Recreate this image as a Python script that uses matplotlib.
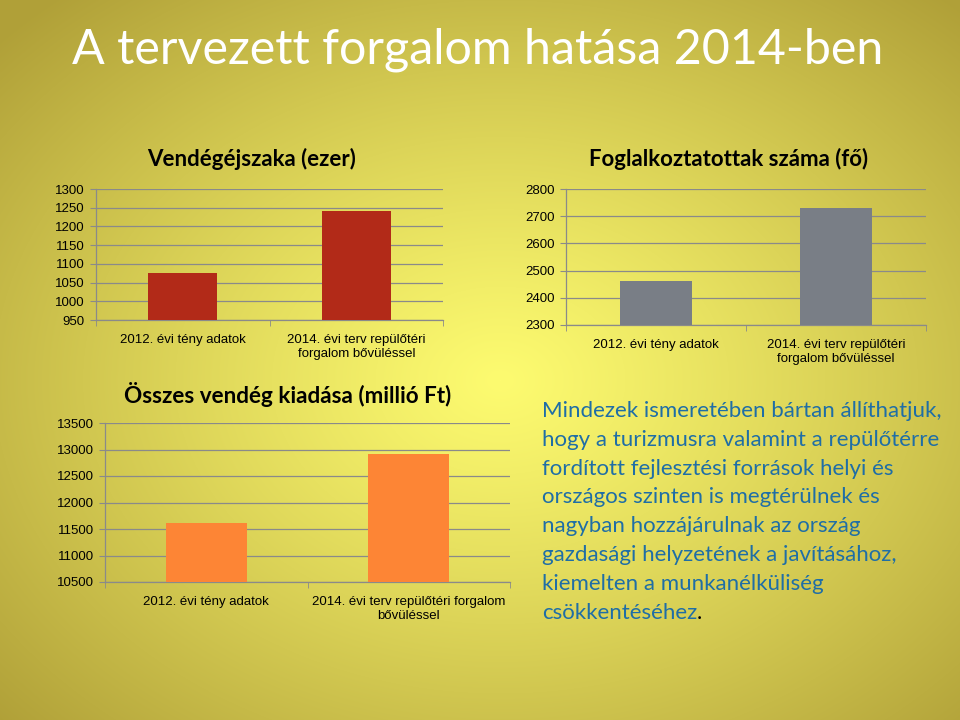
import numpy as np
import matplotlib
matplotlib.use('Agg')
import matplotlib.pyplot as plt

# data
categories = ["2012. évi tény adatok", "2014. évi terv repülőtéri\nforgalom bővüléssel"]
categories_wide = ["2012. évi tény adatok", "2014. évi terv repülőtéri forgalom\nbővüléssel"]

nights = [1075, 1240]
nights_ticks = [950, 1000, 1050, 1100, 1150, 1200, 1250, 1300]

employed = [2460, 2730]
employed_ticks = [2300, 2400, 2500, 2600, 2700, 2800]

spending = [11620, 12910]
spending_ticks = [10500, 11000, 11500, 12000, 12500, 13000, 13500]

text_lines = [
    "Mindezek ismeretében bártan állíthatjuk,",
    "hogy a turizmusra valamint a repülőtérre",
    "fordított fejlesztési források helyi és",
    "országos szinten is megtérülnek és",
    "nagyban hozzájárulnak az ország",
    "gazdasági helyzetének a javításához,",
    "kiemelten a munkanélküliség",
    "csökkentéséhez",
]

W, H = 960, 720
TICK_FONT = ['Liberation Sans Narrow', 'Liberation Sans', 'DejaVu Sans']
TITLE_FONT = ['Lato', 'DejaVu Sans']

fig = plt.figure(figsize=(9.6, 7.2), dpi=100)

# radial background
bg = fig.add_axes([0, 0, 1, 1])
yy, xx = np.mgrid[0:H, 0:W]
r = np.sqrt(((xx - 500) / 480.0) ** 2 + ((yy - 380) / 360.0) ** 2) / np.sqrt(2)
r = np.clip(r, 0, 1) ** 1.15
c0 = np.array([253, 251, 112]) / 255.0
c1 = np.array([176, 160, 56]) / 255.0
img = c0[None, None, :] * (1 - r[..., None]) + c1[None, None, :] * r[..., None]
bg.imshow(img, aspect='auto', extent=[0, W, H, 0])
bg.set_xlim(0, W)
bg.set_ylim(H, 0)
bg.axis('off')


def px_axes(left, top, right, bottom):
    return fig.add_axes([left / W, 1 - bottom / H, (right - left) / W, (bottom - top) / H])


def bar_chart(ax, values, ticks, color, labels):
    ax.set_facecolor('none')
    ax.bar([0, 1], values, width=0.4, color=color, zorder=3)
    ax.set_xlim(-0.5, 1.5)
    ax.set_ylim(ticks[0], ticks[-1])
    ax.set_yticks(ticks)
    ax.set_yticklabels([str(t) for t in ticks], fontfamily=TICK_FONT, fontsize=9.5)
    ax.set_xticks([0, 1])
    ax.set_xticklabels(labels, fontfamily=TICK_FONT, fontsize=9.5, linespacing=1.25)
    ax.set_xticks([-0.5, 0.5, 1.5], minor=True)
    ax.tick_params(axis='x', which='major', length=0, pad=10)
    ax.tick_params(axis='x', which='minor', length=4, color='#8a8a8a')
    ax.tick_params(axis='y', length=4, color='#8a8a8a', pad=4)
    ax.grid(axis='y', color='#8a8a8a', lw=0.9, zorder=0)
    for s in ['top', 'right']:
        ax.spines[s].set_visible(False)
    for s in ['left', 'bottom']:
        ax.spines[s].set_color('#8a8a8a')
        ax.spines[s].set_linewidth(0.9)


ax1 = px_axes(96, 189, 443, 320)
bar_chart(ax1, nights, nights_ticks, '#b22a18', categories)
ax2 = px_axes(566, 189, 926, 325)
bar_chart(ax2, employed, employed_ticks, '#797e86', categories)
ax3 = px_axes(105, 423, 510, 582)
bar_chart(ax3, spending, spending_ticks, '#fd8535', categories_wide)

# titles
fig.text(72 / W, 1 - 50 / H, "A tervezett forgalom hatása 2014-ben", color='white',
         fontsize=34.8, fontfamily=TITLE_FONT, va='center', ha='left')
fig.text(252 / W, 1 - 159 / H, "Vendégéjszaka (ezer)", fontsize=16, fontweight='bold',
         fontfamily=TITLE_FONT, ha='center', va='center')
fig.text(729 / W, 1 - 159 / H, "Foglalkoztatottak száma (fő)", fontsize=16, fontweight='bold',
         fontfamily=TITLE_FONT, ha='center', va='center')
fig.text(288 / W, 1 - 394 / H, "Összes vendég kiadása (millió Ft)", fontsize=16.2, fontweight='bold',
         fontfamily=TITLE_FONT, ha='center', va='center')

# text block
y0 = 411
step = 28.8
last = None
for i, line in enumerate(text_lines):
    last = fig.text(542 / W, 1 - (y0 + i * step) / H, line, color='#1f6ea6', fontsize=16,
                    fontfamily=TITLE_FONT, ha='left', va='center')
bg.annotate(".", xy=(1, 0), xycoords=last, xytext=(0, 0), textcoords='offset points',
            ha='left', va='bottom', fontsize=16, fontfamily=TITLE_FONT, color='black')

fig.savefig('out.png', dpi=100)
